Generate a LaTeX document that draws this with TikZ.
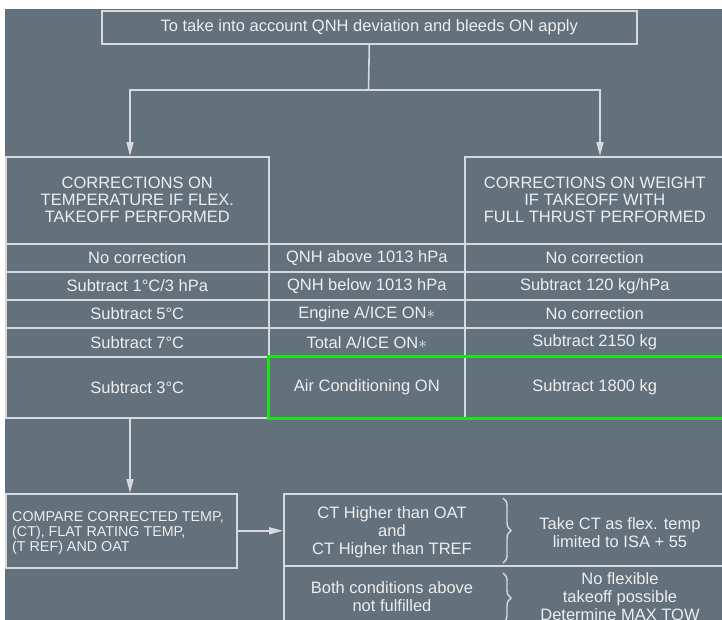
\documentclass[tikz,border=0pt]{standalone}
\usepackage{fontspec}
\setmainfont{Liberation Sans}
\usetikzlibrary{arrows.meta,decorations.pathreplacing,calc,fit}
\definecolor{bg}{RGB}{99,113,124}
\definecolor{ln}{RGB}{214,218,222}
\definecolor{tx}{RGB}{236,238,240}
\definecolor{gr}{RGB}{30,225,30}
\begin{document}
\begin{tikzpicture}[x=1pt,y=-1pt,
  box/.style={draw=ln,line width=1.6pt,inner sep=0pt,text=tx,align=center,
    font=\fontsize{16.5}{17}\selectfont},
  cell/.style={box,anchor=north west},
  txt/.style={inner sep=0pt,text=tx,align=center,font=\fontsize{16.5}{18}\selectfont},
  arr/.style={draw=ln,line width=1.6pt,-{Triangle[length=14pt,width=7pt,fill=ln]}},
  conn/.style={draw=ln,line width=1.6pt},
  greenbox/.style={draw=gr,line width=3pt,inner sep=0pt},
  bracestyle/.style={draw=ln,line width=1.4pt,decorate,decoration={brace,amplitude=8pt}}
]
\useasboundingbox (0,0) rectangle (722,619);
\fill[white] (0,0) rectangle (722,619);
\fill[bg] (5,9) rectangle (724,621);

% top box
\node[cell,minimum width=535pt,minimum height=33pt] (top) at (101,10)
  {To take into account QNH deviation and bleeds ON apply};
\coordinate (j) at (368.5,90);
\coordinate (al) at (130,156);
\coordinate (ar) at (600,156);
\draw[conn] (top.south) -- (j);
\draw[arr] (j) -| (al);
\draw[arr] (j) -| (ar);

% headers
\node[cell,minimum width=263pt,minimum height=87pt] (lh) at (5,156)
  {CORRECTIONS ON\\TEMPERATURE IF FLEX.\\TAKEOFF PERFORMED};
\node[cell,minimum width=260pt,minimum height=87pt] (rh) at (464,156)
  {CORRECTIONS ON WEIGHT\\IF TAKEOFF WITH\\FULL THRUST PERFORMED};

% rows
\node[cell,minimum width=263pt,minimum height=28pt] (l1) at (5,243) {No correction};
\node[cell,minimum width=196pt,minimum height=28pt] (m1) at (268,243) {QNH above 1013 hPa};
\node[cell,minimum width=260pt,minimum height=28pt] (r1) at (464,243) {No correction};

\node[cell,minimum width=263pt,minimum height=28pt] (l2) at (5,271) {Subtract 1°C/3 hPa};
\node[cell,minimum width=196pt,minimum height=28pt] (m2) at (268,271) {QNH below 1013 hPa};
\node[cell,minimum width=260pt,minimum height=28pt] (r2) at (464,271) {Subtract 120 kg/hPa};

\node[cell,minimum width=263pt,minimum height=28pt] (l3) at (5,299) {Subtract 5°C};
\node[cell,minimum width=196pt,minimum height=28pt] (m3) at (268,299) {Engine A/ICE ON$\ast$};
\node[cell,minimum width=260pt,minimum height=28pt] (r3) at (464,299) {No correction};

\node[cell,minimum width=263pt,minimum height=29pt] (l4) at (5,327) {Subtract 7°C};
\node[cell,minimum width=196pt,minimum height=29pt] (m4) at (268,327) {Total A/ICE ON$\ast$};
\node[cell,minimum width=260pt,minimum height=29pt] (r4) at (464,327) {Subtract 2150 kg};

\node[cell,minimum width=263pt,minimum height=61pt] (l5) at (5,356) {Subtract 3°C};
\node[cell,minimum width=196pt,minimum height=61pt] (m5) at (268,356) {Air Conditioning ON};
\node[cell,minimum width=260pt,minimum height=61pt] (r5) at (464,356) {Subtract 1800 kg};
\node[greenbox,fit=(m5)(r5)] (g) {};

% compare box
\node[cell,minimum width=231pt,minimum height=74pt] (cb) at (5,493) {};
\node[inner sep=0pt,text=tx,align=left,anchor=west,
  font=\fontsize{14.3}{15}\selectfont] (cbt) at (12,533)
  {COMPARE CORRECTED TEMP,\\(CT), FLAT RATING TEMP,\\(T REF) AND OAT};
\coordinate (ts) at (130,417);
\draw[arr] (ts) -- (ts |- cb.north);

% right lower boxes
\node[cell,minimum width=441pt,minimum height=72pt] (c1) at (283,493) {};
\node[cell,minimum width=441pt,minimum height=80pt] (c2) at (283,565) {};
\draw[arr] (cb.east) -- (cb.east -| c1.west);

\node[txt] (t1) at (392,532) {CT Higher than OAT\\and\\CT Higher than TREF};
\node[txt] (q1) at (620,533) {Take CT as flex. temp\\limited to ISA + 55};
\node[txt] (t2) at (392,597) {Both conditions above\\not fulfilled};
\node[txt] (q2) at (620,597) {No flexible\\takeoff possible\\Determine MAX TOW};

\coordinate (b1a) at (503,498);
\coordinate (b1b) at (503,563);
\coordinate (b2a) at (503,573);
\coordinate (b2b) at (503,623);
\draw[bracestyle] (b1a) -- (b1b);
\draw[bracestyle] (b2a) -- (b2b);
\end{tikzpicture}
\end{document}
